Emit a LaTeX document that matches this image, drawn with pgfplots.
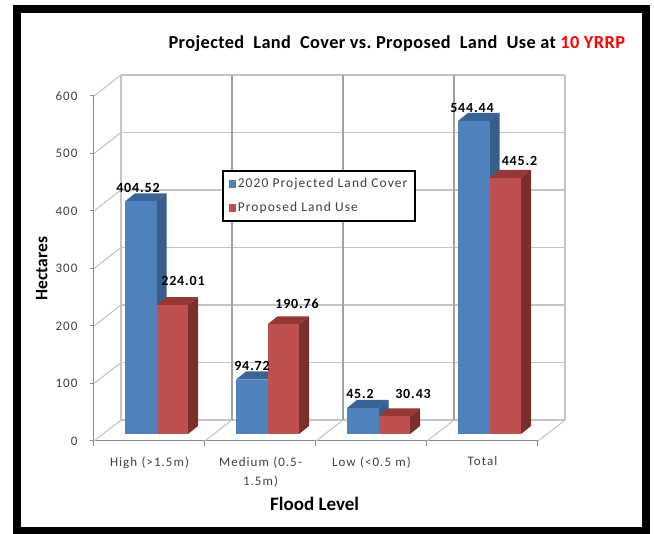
\documentclass[border=0pt]{standalone}
\usepackage{fontspec}
\setmainfont{Carlito}
\newfontfamily\trackedfont[LetterSpace=8]{Carlito}
\newfontfamily\labelfont[LetterSpace=6]{Carlito Bold}
\newfontfamily\titlefont[LetterSpace=2.2]{Carlito Bold}
\usepackage{pgfplots}
\pgfplotsset{compat=1.18}

\definecolor{frontblue}{HTML}{4F81BD}
\definecolor{sideblue}{HTML}{385D8A}
\definecolor{topblue}{HTML}{3A6496}
\definecolor{frontred}{HTML}{C0504D}
\definecolor{sidered}{HTML}{7B2F2D}
\definecolor{topred}{HTML}{953735}
\definecolor{wallgrey}{HTML}{C4C4C4}
\definecolor{gridgrey}{HTML}{A0A0A0}
\definecolor{axisgrey}{HTML}{8A8A8A}
\definecolor{ticktext}{HTML}{3F3F46}

% One column with depth: left edge, value, three face colours
\newcommand{\depthcolumn}[5]{%
  \pgfmathsetmacro{\xr}{#1+0.284}%
  \pgfmathsetmacro{\xrb}{#1+0.284+0.09}%
  \pgfmathsetmacro{\xlb}{#1+0.09}%
  \pgfmathsetmacro{\vb}{#2+14}%
  \addplot[forget plot,draw=none,fill=#5,xshift=8.5pt,yshift=7pt] coordinates {(#1,#2) (\xr,#2) (\xrb,\vb) (\xlb,\vb)} --cycle;
  \addplot[forget plot,draw=none,fill=#4,xshift=8.5pt,yshift=7pt] coordinates {(\xr,0) (\xrb,14) (\xrb,\vb) (\xr,#2)} --cycle;
  \addplot[forget plot,draw=none,fill=#3,xshift=8.5pt,yshift=7pt] coordinates {(#1,0) (\xr,0) (\xr,#2) (#1,#2)} --cycle;
}
% Value label: left edge, value, offset from the unshifted top-left corner of the column
\newcommand{\columnlabel}[4]{%
  \node[font=\labelfont\fontsize{14}{14}\selectfont,text=black,inner sep=0pt,anchor=center,
        xshift=#3pt,yshift=#4pt] at (axis cs:#1,#2) {#2};
}

\begin{document}
\begin{tikzpicture}[x=1pt,y=1pt]
  % page area and outer frame, measured from the lower-left corner of the plot box
  \useasboundingbox (-94,-93) rectangle (560,441);
  \draw[black,line width=8pt] (-77,-90) rectangle (552,432);

  \begin{axis}[
    at={(0,0)},anchor=south west,
    scale only axis,width=444pt,height=345pt,
    xmin=0,xmax=4,ymin=0,ymax=600,clip=false,
    axis x line=bottom,axis y line=left,
    axis line style={axisgrey,line width=1pt,-},
    tick style={axisgrey,line width=1pt},
    tick align=outside,
    xtick={0.5,1.5,2.5,3.5},
    xticklabels={High (>1.5m),{Medium (0.5-\\1.5m)},Low (<0.5 m),Total},
    major x tick style={draw=none},
    minor xtick={0,1,2,3,4},
    minor tick length=5pt,
    ytick={0,100,...,600},
    major tick length=4pt,
    /pgf/number format/assume math mode=true,
    tick label style={font=\trackedfont\fontsize{13}{19}\selectfont,text=ticktext},
    xticklabel style={align=center,anchor=north,yshift=-8pt,text width=100pt},
    yticklabel style={anchor=east,xshift=-9pt},
    xlabel={Flood Level},
    xlabel style={font=\bfseries\fontsize{19}{20}\selectfont,text=black,
      at={(axis description cs:0.497,-0.181)},anchor=center},
    ylabel={Hectares},
    ylabel style={font=\bfseries\fontsize{17.5}{18}\selectfont,text=black,rotate=0,
      at={(axis description cs:-0.1175,0.5)},anchor=center},
    every axis title shift=0pt,
    title={Projected\ \ Land\ \ Cover\ vs.\ Proposed\ \ Land\ \ Use\ at\ \textcolor{red}{10\ YRRP}},
    title style={font=\titlefont\fontsize{18.3}{20}\selectfont,text=black,
      at={(axis description cs:0.682,1.151)},anchor=center,inner sep=0pt},
    legend style={at={(axis description cs:0.288,0.7855)},anchor=north west,
      draw=black,line width=1.8pt,fill=white,
      font=\trackedfont\fontsize{13.5}{15}\selectfont,text=ticktext,
      inner xsep=6pt,inner ysep=5.5pt,row sep=9pt},
    legend cell align=left,
    legend image code/.code={\fill[#1] (0pt,-4pt) rectangle (7pt,4pt);},
    unbounded coords=jump,
  ]
    % horizontal gridlines on the back wall
    \addplot[forget plot,wallgrey,line width=1.3pt] coordinates {
      (0.243,36.5) (4.243,36.5) (nan,nan)
      (0.243,136.5) (4.243,136.5) (nan,nan)
      (0.243,236.5) (4.243,236.5) (nan,nan)
      (0.243,336.5) (4.243,336.5) (nan,nan)
      (0.243,436.5) (4.243,436.5) (nan,nan)
      (0.243,536.5) (4.243,536.5) (nan,nan)
      (0.243,636.5) (4.243,636.5)};
    % outer verticals of the back wall
    \addplot[forget plot,wallgrey,line width=1.3pt] coordinates {
      (0.243,36.5) (0.243,636.5) (nan,nan) (4.243,36.5) (4.243,636.5)};
    % inner verticals of the back wall
    \addplot[forget plot,gridgrey,line width=1.1pt] coordinates {
      (1.243,36.5) (1.243,636.5) (nan,nan)
      (2.243,36.5) (2.243,636.5) (nan,nan)
      (3.243,36.5) (3.243,636.5)};
    % side wall and floor diagonals
    \addplot[forget plot,wallgrey,line width=1.1pt] coordinates {
      (0,0) (0.243,36.5) (nan,nan)
      (0,100) (0.243,136.5) (nan,nan)
      (0,200) (0.243,236.5) (nan,nan)
      (0,300) (0.243,336.5) (nan,nan)
      (0,400) (0.243,436.5) (nan,nan)
      (0,500) (0.243,536.5) (nan,nan)
      (0,600) (0.243,636.5) (nan,nan)
      (1,0) (1.243,36.5) (nan,nan)
      (2,0) (2.243,36.5) (nan,nan)
      (3,0) (3.243,36.5) (nan,nan)
      (4,0) (4.243,36.5)};

    % columns, back to front within each group
    \depthcolumn{0.203}{404.52}{frontblue}{sideblue}{topblue}
    \depthcolumn{0.487}{224.01}{frontred}{sidered}{topred}
    \depthcolumn{1.203}{94.72}{frontblue}{sideblue}{topblue}
    \depthcolumn{1.487}{190.76}{frontred}{sidered}{topred}
    \depthcolumn{2.203}{45.2}{frontblue}{sideblue}{topblue}
    \depthcolumn{2.487}{30.43}{frontred}{sidered}{topred}
    \depthcolumn{3.203}{544.44}{frontblue}{sideblue}{topblue}
    \depthcolumn{3.487}{445.2}{frontred}{sidered}{topred}

    % value labels
    \columnlabel{0.203}{404.52}{21.5}{20.4}
    \columnlabel{0.487}{224.01}{35}{31}
    \columnlabel{1.203}{94.72}{24.5}{20.5}
    \columnlabel{1.487}{190.76}{38}{28}
    \columnlabel{2.203}{45.2}{21.5}{21}
    \columnlabel{2.487}{30.43}{43}{29.5}
    \columnlabel{3.203}{544.44}{22.5}{20}
    \columnlabel{3.487}{445.2}{38.5}{24}

    \addlegendimage{fill=frontblue,draw=none}
    \addlegendentry{2020 Projected Land Cover}
    \addlegendimage{fill=frontred,draw=none}
    \addlegendentry{Proposed Land Use}
  \end{axis}
\end{tikzpicture}
\end{document}
